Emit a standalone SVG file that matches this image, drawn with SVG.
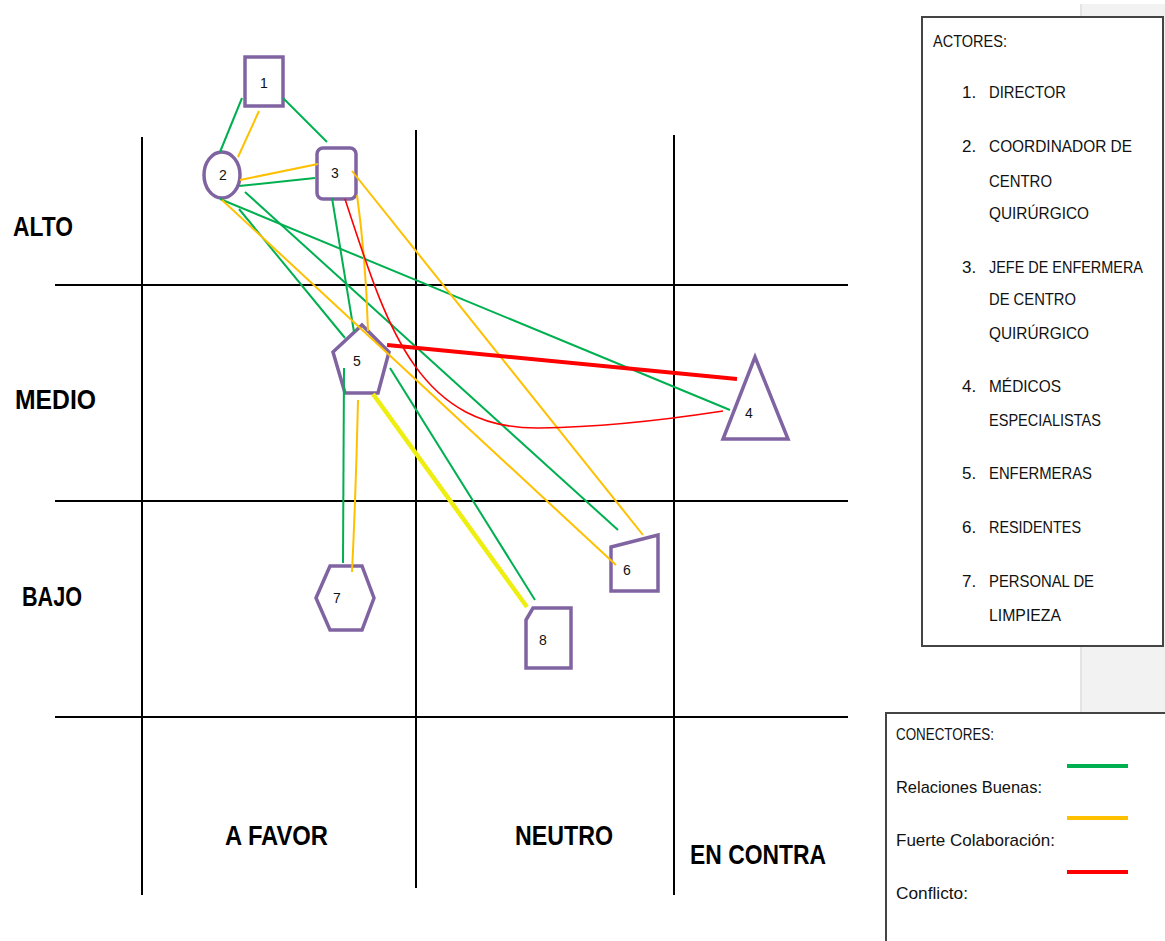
<svg xmlns="http://www.w3.org/2000/svg" width="1165" height="941" viewBox="0 0 1165 941">
<style>
.grid{stroke:#000;stroke-width:2;fill:none}
.node{fill:#fff;stroke:#8064a2;stroke-width:3.5}
.nl{font-family:"Liberation Sans",Arial,sans-serif;font-size:14px;fill:#111;text-anchor:middle}
.ax{font-family:"Liberation Sans",Arial,sans-serif;font-weight:bold;font-size:27px;fill:#000}
.tx{font-family:"Liberation Sans",Arial,sans-serif;font-size:17px;fill:#111}
.g{stroke:#00b050;stroke-width:2;fill:none}
.y{stroke:#ffc000;stroke-width:2;fill:none}
.r{stroke:#ff0000;stroke-width:1.6;fill:none}
.box{fill:#fff;stroke:#444;stroke-width:2}
</style>
<rect x="0" y="0" width="1165" height="941" fill="#fff"/>
<rect x="1081" y="4" width="84" height="708" fill="#f2f2f2"/>
<line x1="1081" y1="4" x2="1081" y2="712" stroke="#e4e4e4" stroke-width="2"/>

<g id="grid">
<line class="grid" x1="142" y1="137" x2="142" y2="895"/>
<line class="grid" x1="416" y1="130" x2="416" y2="888"/>
<line class="grid" x1="674" y1="135" x2="674" y2="895"/>
<line class="grid" x1="55" y1="285" x2="848" y2="285"/>
<line class="grid" x1="55" y1="501" x2="848" y2="501"/>
<line class="grid" x1="55" y1="717" x2="848" y2="717"/>
</g>

<g id="axis-labels">
<text class="ax" x="13" y="236" textLength="60" lengthAdjust="spacingAndGlyphs">ALTO</text>
<text class="ax" x="15" y="409" textLength="81" lengthAdjust="spacingAndGlyphs">MEDIO</text>
<text class="ax" x="22" y="606" textLength="60" lengthAdjust="spacingAndGlyphs">BAJO</text>
<text class="ax" x="225" y="845" textLength="103" lengthAdjust="spacingAndGlyphs">A FAVOR</text>
<text class="ax" x="515" y="845" textLength="98" lengthAdjust="spacingAndGlyphs">NEUTRO</text>
<text class="ax" x="690" y="864" textLength="136" lengthAdjust="spacingAndGlyphs">EN CONTRA</text>
</g>

<g id="node-1"><rect class="node" x="245" y="57" width="38" height="49"/><text class="nl" x="264" y="88">1</text></g>
<g id="node-2"><ellipse class="node" cx="222" cy="175" rx="18" ry="23"/><text class="nl" x="223" y="180">2</text></g>
<g id="node-3"><rect class="node" x="317" y="148" width="39" height="51" rx="6"/><text class="nl" x="335" y="178">3</text></g>
<g id="node-4"><polygon class="node" points="755,357 788,439 723,439"/><text class="nl" x="749" y="418">4</text></g>
<g id="node-5"><polygon class="node" points="362,325 389,352 378,393 345,393 333,352"/><text class="nl" x="357" y="366">5</text></g>
<g id="node-6"><polygon class="node" points="611,547 658,535 658,591 611,591"/><text class="nl" x="627" y="575">6</text></g>
<g id="node-7"><polygon class="node" points="316,598 330,566 362,566 374,598 362,630 330,630"/><text class="nl" x="337" y="603">7</text></g>
<g id="node-8"><polygon class="node" points="526,620 533,608 571,608 571,668 526,668"/><text class="nl" x="543" y="645">8</text></g>

<g id="connectors">
<line class="g" x1="242" y1="98" x2="220" y2="152"/>
<line class="g" x1="283" y1="98" x2="327" y2="142"/>
<line class="g" x1="239" y1="186" x2="315" y2="178"/>
<path class="g" d="M220,199 Q330,244 730,410"/>
<line class="g" x1="239" y1="209" x2="345" y2="338"/>
<line class="g" x1="245" y1="192" x2="618" y2="530"/>
<line class="g" x1="332" y1="198" x2="354" y2="332"/>
<line class="g" x1="344" y1="368" x2="343" y2="563"/>
<line class="g" x1="390" y1="368" x2="535" y2="600"/>
<line class="y" x1="259" y1="111" x2="238" y2="157"/>
<line class="y" x1="240" y1="180" x2="318" y2="164"/>
<line class="y" x1="222" y1="200" x2="616" y2="565"/>
<line class="y" x1="352" y1="171" x2="643" y2="535"/>
<path class="y" d="M357,195 Q366,260 368,331"/>
<path class="y" d="M358,400 Q356,490 352,572"/>
<line x1="373" y1="394" x2="527" y2="607" stroke="#eeee10" stroke-width="4.5"/>
<line x1="387" y1="345" x2="737" y2="379" stroke="#ff0000" stroke-width="4"/>
<path class="r" d="M345,199 C385,320 415,430 540,428 C620,427 690,416 723,411"/>
</g>

<g id="actors-legend">
<rect class="box" x="922" y="17" width="241" height="629"/>
<text class="tx" x="933" y="47" textLength="74" lengthAdjust="spacingAndGlyphs">ACTORES:</text>
<text class="tx" x="962" y="98">1.</text><text class="tx" x="989" y="98" textLength="77" lengthAdjust="spacingAndGlyphs">DIRECTOR</text>
<text class="tx" x="962" y="152">2.</text><text class="tx" x="989" y="152" textLength="143" lengthAdjust="spacingAndGlyphs">COORDINADOR DE</text>
<text class="tx" x="989" y="187" textLength="63" lengthAdjust="spacingAndGlyphs">CENTRO</text>
<text class="tx" x="989" y="219" textLength="100" lengthAdjust="spacingAndGlyphs">QUIRÚRGICO</text>
<text class="tx" x="962" y="273">3.</text><text class="tx" x="989" y="273" textLength="154" lengthAdjust="spacingAndGlyphs">JEFE DE ENFERMERA</text>
<text class="tx" x="989" y="305" textLength="87" lengthAdjust="spacingAndGlyphs">DE CENTRO</text>
<text class="tx" x="989" y="339" textLength="100" lengthAdjust="spacingAndGlyphs">QUIRÚRGICO</text>
<text class="tx" x="962" y="392">4.</text><text class="tx" x="989" y="392" textLength="72" lengthAdjust="spacingAndGlyphs">MÉDICOS</text>
<text class="tx" x="989" y="426" textLength="112" lengthAdjust="spacingAndGlyphs">ESPECIALISTAS</text>
<text class="tx" x="962" y="479">5.</text><text class="tx" x="989" y="479" textLength="103" lengthAdjust="spacingAndGlyphs">ENFERMERAS</text>
<text class="tx" x="962" y="533">6.</text><text class="tx" x="989" y="533" textLength="92" lengthAdjust="spacingAndGlyphs">RESIDENTES</text>
<text class="tx" x="962" y="587">7.</text><text class="tx" x="989" y="587" textLength="105" lengthAdjust="spacingAndGlyphs">PERSONAL DE</text>
<text class="tx" x="989" y="621" textLength="72" lengthAdjust="spacingAndGlyphs">LIMPIEZA</text>
</g>

<g id="connectors-legend">
<rect class="box" x="886" y="713" width="285" height="240"/>
<text class="tx" x="896" y="740" textLength="98" lengthAdjust="spacingAndGlyphs">CONECTORES:</text>
<text class="tx" x="896" y="793" textLength="146" lengthAdjust="spacingAndGlyphs">Relaciones Buenas:</text>
<text class="tx" x="896" y="846" textLength="159" lengthAdjust="spacingAndGlyphs">Fuerte Colaboración:</text>
<text class="tx" x="896" y="899" textLength="72" lengthAdjust="spacingAndGlyphs">Conflicto:</text>
<line x1="1067" y1="766" x2="1128" y2="766" stroke="#00b050" stroke-width="4"/>
<line x1="1067" y1="818" x2="1128" y2="818" stroke="#ffc000" stroke-width="4"/>
<line x1="1067" y1="872" x2="1128" y2="872" stroke="#ff0000" stroke-width="4"/>
</g>
</svg>
